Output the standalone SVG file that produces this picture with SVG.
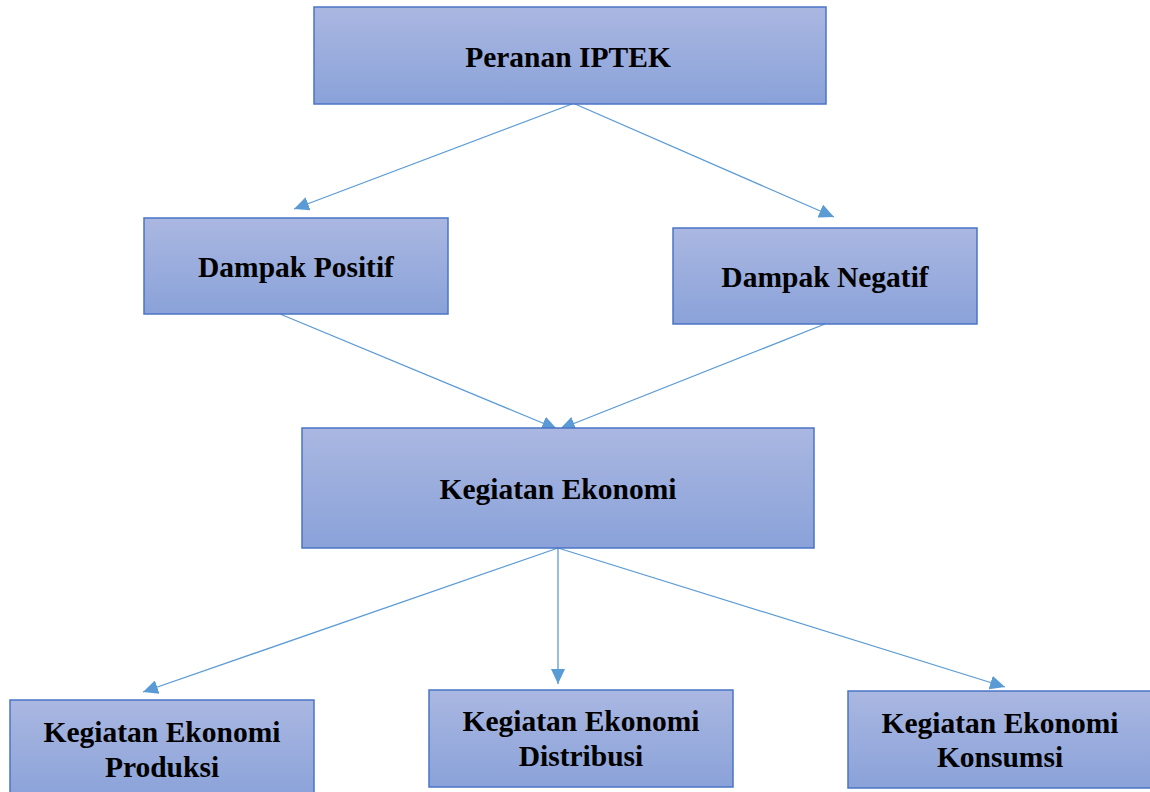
<svg xmlns="http://www.w3.org/2000/svg" width="1150" height="792" viewBox="0 0 1150 792">
<defs>
<linearGradient id="g" x1="0" y1="0" x2="0" y2="1">
<stop offset="0" stop-color="#aab7e1"/>
<stop offset="1" stop-color="#8aa2d9"/>
</linearGradient>
<marker id="ah" markerWidth="15" markerHeight="14" refX="15" refY="7" orient="auto" markerUnits="userSpaceOnUse" viewBox="0 0 15 14">
<path d="M0,0 L15,7 L0,14 Z" fill="#5b9bd5"/>
</marker>
<style>
.box{fill:url(#g);stroke:#4a74c6;stroke-width:1.5}
.t{font-family:"Liberation Serif","Times New Roman",serif;font-weight:bold;font-size:29.5px;fill:#000;text-anchor:middle}
.c{stroke:#5b9bd5;stroke-width:1.3;fill:none;marker-end:url(#ah)}
</style>
</defs>
<rect width="1150" height="792" fill="#fff"/>
<g id="connectors">
<line class="c" x1="572" y1="104" x2="294" y2="209"/>
<line class="c" x1="575" y1="104" x2="834" y2="217"/>
<line class="c" x1="280" y1="314" x2="557" y2="429"/>
<line class="c" x1="825" y1="324" x2="560" y2="429"/>
<line class="c" x1="558" y1="548" x2="143" y2="692"/>
<line class="c" x1="558" y1="548" x2="558" y2="684"/>
<line class="c" x1="558" y1="548" x2="1005" y2="687"/>
</g>
<g id="peranan"><rect class="box" x="314" y="7" width="512" height="97"/><text class="t" x="568" y="67">Peranan IPTEK</text></g>
<g id="positif"><rect class="box" x="144" y="218" width="304" height="96"/><text class="t" x="296" y="277">Dampak Positif</text></g>
<g id="negatif"><rect class="box" x="673" y="228" width="304" height="96"/><text class="t" x="825" y="287">Dampak Negatif</text></g>
<g id="ekonomi"><rect class="box" x="302" y="428" width="512" height="120"/><text class="t" x="558" y="499">Kegiatan Ekonomi</text></g>
<g id="produksi"><rect class="box" x="10" y="700" width="304" height="100"/><text class="t" x="162" y="742">Kegiatan Ekonomi</text><text class="t" x="162" y="777">Produksi</text></g>
<g id="distribusi"><rect class="box" x="429" y="690" width="304" height="97"/><text class="t" x="581" y="731">Kegiatan Ekonomi</text><text class="t" x="581" y="766">Distribusi</text></g>
<g id="konsumsi"><rect class="box" x="848" y="691" width="310" height="97"/><text class="t" x="1000" y="733">Kegiatan Ekonomi</text><text class="t" x="1000" y="767">Konsumsi</text></g>
</svg>
